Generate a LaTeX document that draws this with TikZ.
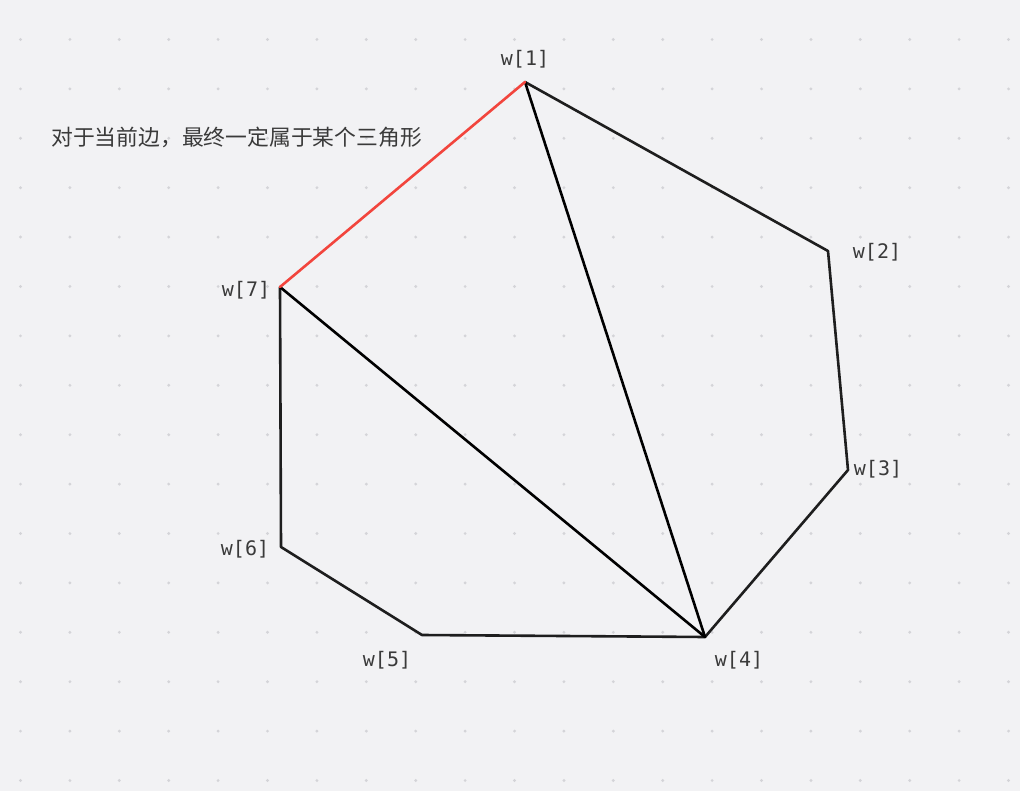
\documentclass[tikz,border=0pt]{standalone}
\usepackage{fontspec}
\setmonofont{DejaVu Sans Mono}
\newfontfamily\cjk{Noto Sans CJK SC}
\usetikzlibrary{positioning}
\definecolor{bgcol}{HTML}{F2F2F4}
\definecolor{dotcol}{HTML}{D4D4D8}
\definecolor{edgecol}{HTML}{1E1E1E}
\definecolor{redcol}{HTML}{F2453D}
\definecolor{textcol}{HTML}{3A3A3A}
\tikzset{
    edge/.style={edgecol, line width=2.6pt, line join=round, line cap=round},
    diag/.style={black, line width=2.6pt, line cap=round},
    current/.style={redcol, line width=2.6pt, line cap=round},
    wlabel/.style={text=textcol, font=\ttfamily\fontsize{20}{20}\selectfont, inner sep=0pt},
    note/.style={text=textcol, font=\cjk\fontsize{21.8}{21.8}\selectfont, inner sep=0pt, anchor=west}
}

\begin{document}
\begin{tikzpicture}[x=1pt, y=-1pt]
        % Draw the background with its dot grid
        \fill[bgcol] (0,0) rectangle (1020,791);
        \useasboundingbox (0,0) rectangle (1020,791);
        \foreach \i in {0,...,20}
            \foreach \j in {0,...,15}
                \fill[dotcol] (20.5+49.4*\i, 39.5+49.4*\j) circle (1.6);

        % Polygon vertices
        \coordinate (w1) at (525,82);
        \coordinate (w2) at (828,251);
        \coordinate (w3) at (848,470);
        \coordinate (w4) at (705,637);
        \coordinate (w5) at (422,635);
        \coordinate (w6) at (281,547);
        \coordinate (w7) at (280,287);

        % Outline of the polygon
        \draw[edge] (w1) -- (w2) -- (w3) -- (w4) -- (w5) -- (w6) -- (w7);

        % Diagonals of the triangulation
        \draw[diag] (w1) -- (w4);
        \draw[diag] (w7) -- (w4);

        % The current edge
        \draw[current] (w7) -- (w1);

        % Vertex labels
        \node[wlabel] (l1) at (525,59) {w[1]};
        \node[wlabel] (l2) at (877,252) {w[2]};
        \node[wlabel] (l3) at (878,469) {w[3]};
        \node[wlabel] (l4) at (739,660) {w[4]};
        \node[wlabel] (l5) at (387,660) {w[5]};
        \node[wlabel] (l6) at (245,549) {w[6]};
        \node[wlabel] (l7) at (246,290) {w[7]};

        % Note
        \node[note] (note) at (51,137) {对于当前边，最终一定属于某个三角形};
\end{tikzpicture}
\end{document}
